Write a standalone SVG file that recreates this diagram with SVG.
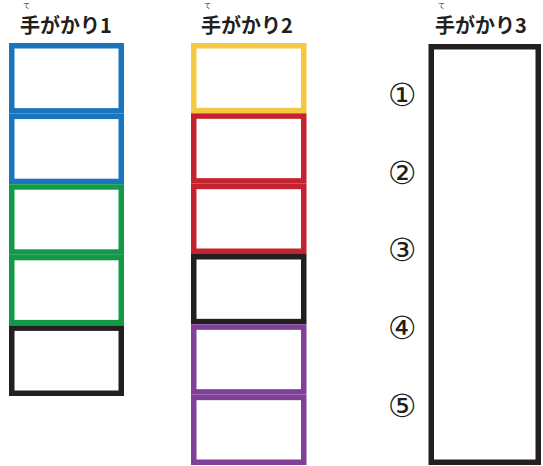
<svg xmlns="http://www.w3.org/2000/svg" width="543" height="466" viewBox="0 0 543 466">
<style>
.box{fill:#fff;stroke-width:5.5}
.b{stroke:#1a75bc}.g{stroke:#139a48}.k{stroke:#231f20}.y{stroke:#f4c843}.r{stroke:#c4222f}.p{stroke:#80419a}
.h{font-family:"Noto Sans CJK JP","Noto Sans",sans-serif;font-weight:bold;font-size:20px;fill:#231f20}
.ruby{font-family:"Noto Sans CJK JP",sans-serif;font-size:7px;fill:#231f20}
.n{font-family:"DejaVu Sans",sans-serif;font-size:32px;fill:#231f20;text-anchor:middle}
</style>
<rect width="543" height="466" fill="#fff"/>
<g id="header1"><text class="ruby" x="23" y="7.8">て</text><text class="h" x="20" y="33">手がかり1</text></g>
<g id="header2"><text class="ruby" x="204" y="7.8">て</text><text class="h" x="201" y="33">手がかり2</text></g>
<g id="header3"><text class="ruby" x="438" y="7.8">て</text><text class="h" x="435" y="33">手がかり3</text></g>
<g id="col1">
<rect id="c1-1" class="box b" x="11.75" y="45.75" width="109.5" height="65.1"/>
<rect id="c1-2" class="box b" x="11.75" y="116.35" width="109.5" height="65.1"/>
<rect id="c1-3" class="box g" x="11.75" y="186.95" width="109.5" height="65.1"/>
<rect id="c1-4" class="box g" x="11.75" y="257.55" width="109.5" height="65.1"/>
<rect id="c1-5" class="box k" x="11.75" y="328.15" width="109.5" height="65.1"/>
</g>
<g id="col2">
<rect id="c2-1" class="box y" x="193.75" y="45.75" width="110" height="64.83"/>
<rect id="c2-2" class="box r" x="193.75" y="116.08" width="110" height="64.83"/>
<rect id="c2-3" class="box r" x="193.75" y="186.42" width="110" height="64.83"/>
<rect id="c2-4" class="box k" x="193.75" y="256.75" width="110" height="64.83"/>
<rect id="c2-5" class="box p" x="193.75" y="327.08" width="110" height="64.83"/>
<rect id="c2-6" class="box p" x="193.75" y="397.42" width="110" height="64.83"/>
</g>
<g id="col3">
<rect id="c3" class="box k" x="431.25" y="46.75" width="107" height="415.5"/>
</g>
<g id="numbers">
<text class="n" x="402" y="106">①</text>
<text class="n" x="402" y="184">②</text>
<text class="n" x="402" y="261">③</text>
<text class="n" x="402" y="339">④</text>
<text class="n" x="402" y="417">⑤</text>
</g>
</svg>
